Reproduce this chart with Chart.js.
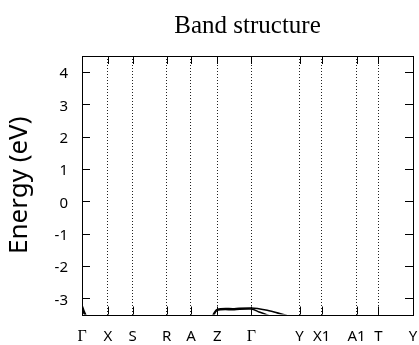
<!DOCTYPE html>
<html>
<head>
<meta charset="utf-8">
<script src="https://cdn.jsdelivr.net/npm/chart.js@4/dist/chart.umd.min.js"></script>
<style>
  html, body { margin: 0; padding: 0; background: #fff; }
  #wrap { width: 419px; height: 345px; }
</style>
</head>
<body>
<div id="wrap"><canvas id="myChart" width="419" height="345"></canvas></div>
<script>
'use strict';

// high-symmetry points along the k-path (fraction of path length)
var kLabels = ['\u0393', 'X', 'S', 'R', 'A', 'Z', '\u0393', 'Y', 'X1', 'A1', 'T', 'Y'];
var kTicks = [0, 0.0785, 0.1529, 0.2556, 0.3293, 0.4085, 0.5115, 0.6574, 0.7239, 0.8296, 0.8952, 1.0];
var energyTicks = [-3, -2, -1, 0, 1, 2, 3, 4];

// bands that enter the visible window (-3.5 .. 4.5 eV)
var band1K = [0, 0.005, 0.010, 0.016];
var band1E = [-3.22, -3.36, -3.48, -3.6];
var band2K = [0, 0.004, 0.009, 0.014];
var band2E = [-3.30, -3.42, -3.52, -3.62];
var band3K = [0.392, 0.4085, 0.46, 0.5115, 0.555, 0.59, 0.608, 0.62];
var band3E = [-3.58, -3.345, -3.32, -3.30, -3.36, -3.45, -3.5, -3.54];
var band4K = [0.396, 0.4085, 0.46, 0.5115, 0.535, 0.556, 0.57];
var band4E = [-3.56, -3.37, -3.35, -3.33, -3.42, -3.5, -3.56];

function pts(k, e) {
   return k.map(function (v, i) { return { x: v, y: e[i] }; });
}

var bands = [[band1K, band1E], [band2K, band2E], [band3K, band3E], [band4K, band4E]];

var frame = {
   id: 'frame',
   afterDatasetsDraw: function (chart) {
      var ctx = chart.ctx, a = chart.chartArea;
      var xs = chart.scales.x, ys = chart.scales.y;
      ctx.save();
      ctx.strokeStyle = '#000';
      ctx.lineWidth = 1;
      ctx.beginPath();
      energyTicks.forEach(function (v) {
         var y = Math.round(ys.getPixelForValue(v)) + 0.5;
         ctx.moveTo(a.left, y); ctx.lineTo(a.left + 8, y);
         ctx.moveTo(a.right - 8, y); ctx.lineTo(a.right, y);
      });
      kTicks.slice(1, -1).forEach(function (v) {
         var x = Math.round(xs.getPixelForValue(v)) + 0.5;
         ctx.moveTo(x, a.bottom); ctx.lineTo(x, a.bottom - 8);
         ctx.moveTo(x, a.top); ctx.lineTo(x, a.top + 8);
      });
      ctx.stroke();
      ctx.strokeRect(Math.round(a.left) + 0.5, Math.round(a.top) + 0.5,
                     Math.round(a.right - a.left), Math.round(a.bottom - a.top));
      // title centred over the plot area
      ctx.fillStyle = '#000';
      ctx.font = '25px "Liberation Serif"';
      ctx.textAlign = 'center';
      ctx.textBaseline = 'alphabetic';
      ctx.fillText('Band structure', (a.left + a.right) / 2, 33);
      ctx.restore();
   }
};

var ctx = document.getElementById('myChart');
var myChart = new Chart(ctx, {
   type: 'scatter',
   data: {
      datasets: bands.map(function (b) {
         return {
            data: pts(b[0], b[1]),
            showLine: true,
            borderColor: '#000',
            borderWidth: 1.6,
            pointRadius: 0,
            tension: 0.3
         };
      })
   },
   options: {
      responsive: false,
      animation: false,
      layout: { padding: { top: 56, right: 6, left: 0, bottom: 0 } },
      plugins: { legend: { display: false }, tooltip: { enabled: false }, title: { display: false } },
      scales: {
         x: {
            type: 'linear',
            min: 0, max: 1,
            afterBuildTicks: function (s) { s.ticks = kTicks.map(function (v) { return { value: v }; }); },
            afterFit: function (s) { s.height = 30.5; s.paddingLeft = 0; s.paddingRight = 0; },
            ticks: {
               autoSkip: false,
               maxRotation: 0,
               padding: 13,
               color: '#000',
               font: function (c) {
                  var l = kLabels[c.index];
                  return l === '\u0393' ? { family: 'Liberation Serif', size: 16 } : { family: 'Noto Sans', size: 15 };
               },
               callback: function (v, i) { return kLabels[i]; }
            },
            grid: {
               drawTicks: false,
               color: function (c) { return (c.index === 0 || c.index === kTicks.length - 1) ? 'rgba(0,0,0,0)' : '#222'; },
               lineWidth: 1
            },
            border: { display: false, dash: [1, 2] }
         },
         y: {
            type: 'linear',
            min: -3.5, max: 4.5,
            afterBuildTicks: function (s) { s.ticks = energyTicks.map(function (v) { return { value: v }; }); },
            afterFit: function (s) { s.width = 82; },
            ticks: {
               padding: 14,
               labelOffset: 2,
               color: '#000',
               font: { family: 'Noto Sans', size: 15 }
            },
            grid: { display: false, drawTicks: false },
            border: { display: false },
            title: {
               display: true,
               text: 'Energy (eV)',
               color: '#000',
               font: { family: 'Noto Sans', size: 26 },
               padding: { top: 4, bottom: 0 }
            }
         }
      }
   },
   plugins: [frame]
});
</script>
</body>
</html>
